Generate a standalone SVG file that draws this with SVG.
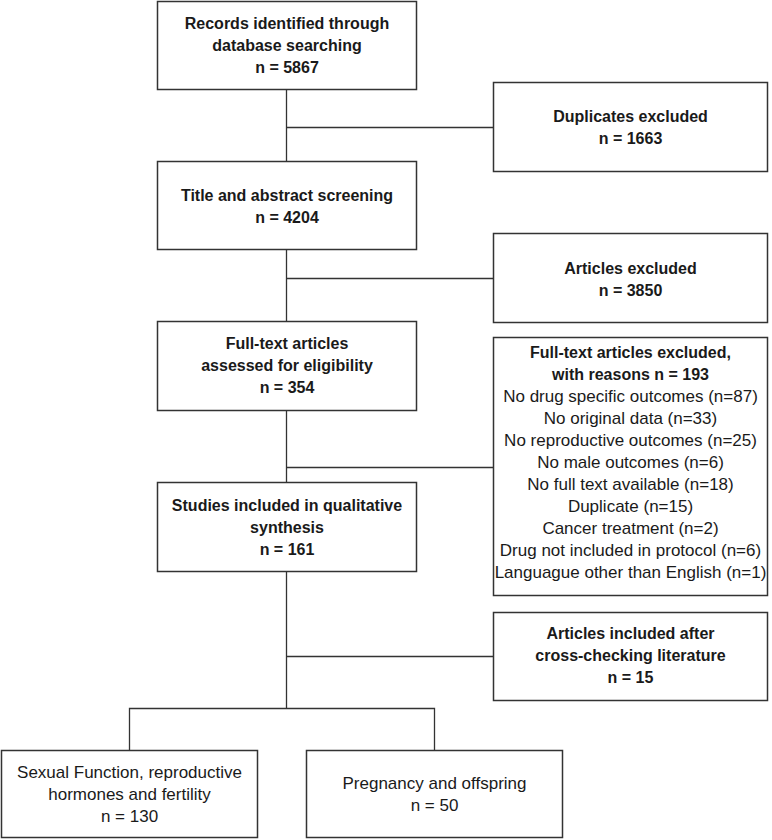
<svg xmlns="http://www.w3.org/2000/svg" width="772" height="840" viewBox="0 0 772 840">
<style>
.box{fill:#ffffff;stroke:#333333;stroke-width:1.5}
.ln{fill:none;stroke:#333333;stroke-width:1.3}
.b{font-family:"Liberation Sans",Arial,sans-serif;font-weight:bold;font-size:16px;fill:#1a1a1a;text-anchor:middle}
.r{font-family:"Liberation Sans",Arial,sans-serif;font-size:17px;fill:#1a1a1a;text-anchor:middle}
</style>
<rect width="772" height="840" fill="#ffffff"/>
<g id="connectors">
<line class="ln" x1="286.5" y1="89" x2="286.5" y2="161"/>
<line class="ln" x1="286.5" y1="249" x2="286.5" y2="321"/>
<line class="ln" x1="286.5" y1="411" x2="286.5" y2="482"/>
<line class="ln" x1="286.5" y1="571" x2="286.5" y2="708.5"/>
<line class="ln" x1="286.5" y1="127.5" x2="493" y2="127.5"/>
<line class="ln" x1="286.5" y1="278.5" x2="493" y2="278.5"/>
<line class="ln" x1="286.5" y1="467.5" x2="493" y2="467.5"/>
<line class="ln" x1="286.5" y1="656.5" x2="493" y2="656.5"/>
<polyline class="ln" points="129.5,750 129.5,708.5 434.5,708.5 434.5,750"/>
</g>
<g id="records">
<rect class="box" x="157.5" y="1.5" width="259" height="88"/>
<text class="b" x="287" y="29">Records identified through</text>
<text class="b" x="287" y="51">database searching</text>
<text class="b" x="287" y="73">n = 5867</text>
</g>
<g id="duplicates">
<rect class="box" x="493.5" y="82.5" width="274" height="89"/>
<text class="b" x="630.5" y="122">Duplicates excluded</text>
<text class="b" x="630.5" y="144">n = 1663</text>
</g>
<g id="screening">
<rect class="box" x="157.5" y="161.5" width="259" height="88"/>
<text class="b" x="287" y="201">Title and abstract screening</text>
<text class="b" x="287" y="223">n = 4204</text>
</g>
<g id="articles-excluded">
<rect class="box" x="493.5" y="233.5" width="274" height="89"/>
<text class="b" x="630.5" y="274">Articles excluded</text>
<text class="b" x="630.5" y="296">n = 3850</text>
</g>
<g id="fulltext">
<rect class="box" x="157.5" y="321.5" width="259" height="89"/>
<text class="b" x="287" y="349">Full-text articles</text>
<text class="b" x="287" y="371">assessed for eligibility</text>
<text class="b" x="287" y="393">n = 354</text>
</g>
<g id="fulltext-excluded">
<rect class="box" x="493.5" y="337.5" width="274" height="258"/>
<text class="b" x="630.5" y="358">Full-text articles excluded,</text>
<text class="b" x="630.5" y="380">with reasons n = 193</text>
<text class="r" x="630.5" y="402">No drug specific outcomes (n=87)</text>
<text class="r" x="630.5" y="424">No original data (n=33)</text>
<text class="r" x="630.5" y="446">No reproductive outcomes (n=25)</text>
<text class="r" x="630.5" y="468">No male outcomes (n=6)</text>
<text class="r" x="630.5" y="490">No full text available (n=18)</text>
<text class="r" x="630.5" y="512">Duplicate (n=15)</text>
<text class="r" x="630.5" y="534">Cancer treatment (n=2)</text>
<text class="r" x="630.5" y="556">Drug not included in protocol (n=6)</text>
<text class="r" x="630.5" y="578">Languague other than English (n=1)</text>
</g>
<g id="studies">
<rect class="box" x="157.5" y="482.5" width="259" height="89"/>
<text class="b" x="287" y="511">Studies included in qualitative</text>
<text class="b" x="287" y="533">synthesis</text>
<text class="b" x="287" y="555">n = 161</text>
</g>
<g id="crosscheck">
<rect class="box" x="493.5" y="612.5" width="274" height="88"/>
<text class="b" x="630.5" y="639">Articles included after</text>
<text class="b" x="630.5" y="661">cross-checking literature</text>
<text class="b" x="630.5" y="683">n = 15</text>
</g>
<g id="sexual-function">
<rect class="box" x="1.5" y="750.5" width="256" height="87"/>
<text class="r" x="129.5" y="778">Sexual Function, reproductive</text>
<text class="r" x="129.5" y="800">hormones and fertility</text>
<text class="r" x="129.5" y="822">n = 130</text>
</g>
<g id="pregnancy">
<rect class="box" x="306.5" y="750.5" width="256" height="87"/>
<text class="r" x="434.5" y="789">Pregnancy and offspring</text>
<text class="r" x="434.5" y="811">n = 50</text>
</g>
</svg>
